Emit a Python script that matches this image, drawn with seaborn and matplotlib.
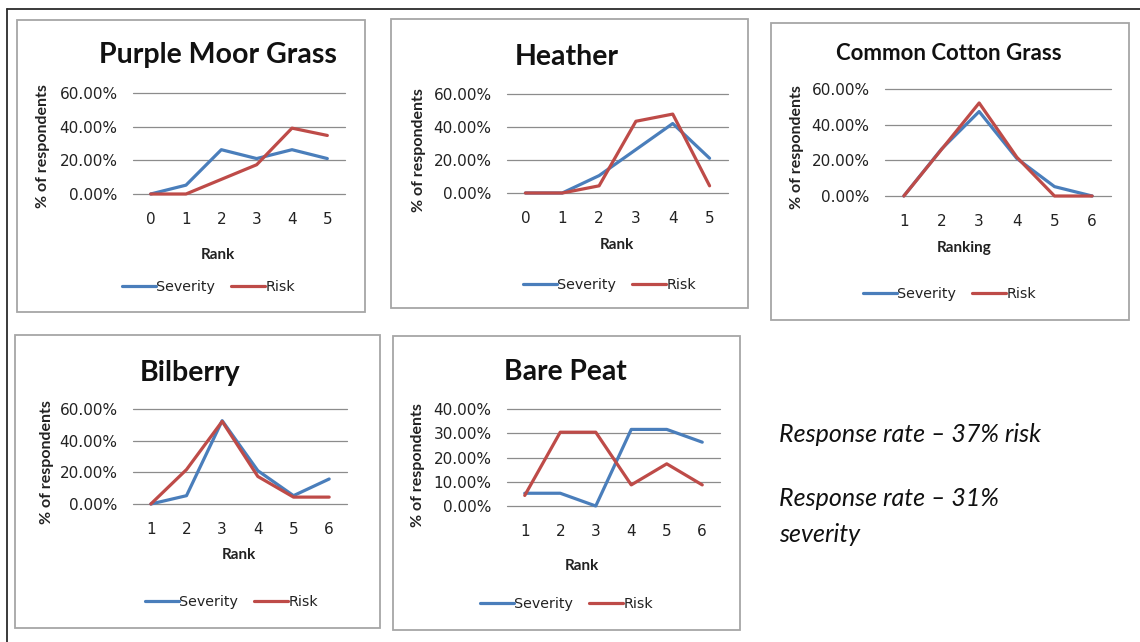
import matplotlib
matplotlib.use("Agg")
import matplotlib.pyplot as plt
import matplotlib.ticker as mticker
from matplotlib.patches import Rectangle
from matplotlib.lines import Line2D
import numpy as np
import pandas as pd
import seaborn as sns

# ---------------- data (percent of respondents) ----------------
ranks_0_5 = [0, 1, 2, 3, 4, 5]
ranks_1_6 = [1, 2, 3, 4, 5, 6]
series_names = ["Severity", "Risk"]

pmg_severity = [0.0, 5.26, 26.32, 21.05, 26.32, 21.05]
pmg_risk = [0.0, 0.0, 8.70, 17.39, 39.13, 34.78]

heather_severity = [0.0, 0.0, 10.53, 26.32, 42.11, 21.05]
heather_risk = [0.0, 0.0, 4.35, 43.48, 47.83, 4.35]

cotton_severity = [0.0, 26.32, 47.37, 21.05, 5.26, 0.0]
cotton_risk = [0.0, 26.09, 52.17, 21.74, 0.0, 0.0]

bilberry_severity = [0.0, 5.26, 52.63, 21.05, 5.26, 15.79]
bilberry_risk = [0.0, 21.74, 52.17, 17.39, 4.35, 4.35]

peat_severity = [5.26, 5.26, 0.0, 31.58, 31.58, 26.32]
peat_risk = [4.35, 30.43, 30.43, 8.70, 17.39, 8.70]

titles = ["Purple Moor Grass", "Heather", "Common Cotton Grass", "Bilberry", "Bare Peat"]
xlabels = ["Rank", "Rank", "Ranking", "Rank", "Rank"]
ylabel = "% of respondents"
note_lines = ["Response rate \u2013 37% risk", "Response rate \u2013 31%", "severity"]

# ---------------- style ----------------
sns.set_theme(style="white")
plt.rcParams["font.family"] = ["DejaVu Sans"]
COLORS = {"Severity": "#4A7EBB", "Risk": "#BE4B48"}

W, H = 1140, 642
fig = plt.figure(figsize=(W / 100, H / 100), dpi=100)
fig.patch.set_facecolor("white")


def fx(x):
    return x / W


def fy(y):
    return 1 - y / H


# outer frame (top and left edges)
fig.add_artist(Line2D([fx(7), fx(1140)], [fy(9), fy(9)], transform=fig.transFigure,
                      color="#2b2b2b", lw=1.3))
fig.add_artist(Line2D([fx(7), fx(7)], [fy(9), fy(642)], transform=fig.transFigure,
                      color="#2b2b2b", lw=1.3))

panels = [
    dict(box=(17, 20, 365, 312), ax=(133, 93, 345, 194), xs=ranks_0_5, sev=pmg_severity, risk=pmg_risk,
         ymax=60, step=20, title=(218, 55, 20.5), xl=(218, 255), yl=(43, 146), leg=(122, 287)),
    dict(box=(391, 19, 748, 308), ax=(507, 94, 728, 193), xs=ranks_0_5, sev=heather_severity, risk=heather_risk,
         ymax=60, step=20, title=(567, 57, 20.5), xl=(617, 245), yl=(419, 150), leg=(523, 285)),
    dict(box=(771, 23, 1129, 320), ax=(885, 89, 1111, 196), xs=ranks_1_6, sev=cotton_severity, risk=cotton_risk,
         ymax=60, step=20, title=(949, 53, 16), xl=(964, 248), yl=(797, 147), leg=(863, 294)),
    dict(box=(15, 335, 380, 628), ax=(133, 409, 347, 504), xs=ranks_1_6, sev=bilberry_severity, risk=bilberry_risk,
         ymax=60, step=20, title=(190, 373, 20.5), xl=(239, 555), yl=(47, 462), leg=(145, 602)),
    dict(box=(393, 336, 740, 630), ax=(507, 409, 720, 506), xs=ranks_1_6, sev=peat_severity, risk=peat_risk,
         ymax=40, step=10, title=(565, 372, 20.3), xl=(582, 566), yl=(418, 465), leg=(480, 604)),
]

for i, p in enumerate(panels):
    bx0, by0, bx1, by1 = p["box"]
    fig.add_artist(Rectangle((fx(bx0), fy(by1)), (bx1 - bx0) / W, (by1 - by0) / H,
                             transform=fig.transFigure, fill=False,
                             edgecolor="#A6A6A6", lw=1.3))
    ax0, ay0, ax1, ay1 = p["ax"]
    ax = fig.add_axes([fx(ax0), fy(ay1), (ax1 - ax0) / W, (ay1 - ay0) / H])
    ax.set_facecolor("none")

    df = pd.DataFrame({
        "Rank": list(p["xs"]) * 2,
        "Pct": list(p["sev"]) + list(p["risk"]),
        "Series": ["Severity"] * len(p["xs"]) + ["Risk"] * len(p["xs"]),
    })
    sns.lineplot(data=df, x="Rank", y="Pct", hue="Series", hue_order=series_names,
                 palette=COLORS, lw=2.3, ax=ax, sort=False, clip_on=False, zorder=3)

    xs = p["xs"]
    ax.set_xlim(xs[0] - 0.5, xs[-1] + 0.5)
    ax.set_ylim(0, p["ymax"])
    ax.set_yticks(np.arange(0, p["ymax"] + 0.1, p["step"]))
    ax.set_xticks(xs)
    ax.yaxis.set_major_formatter(mticker.PercentFormatter(xmax=100, decimals=2))
    ax.grid(axis="y", color="#8C8C8C", lw=0.9)
    ax.grid(axis="x", visible=False)
    for gl in ax.get_ygridlines():
        gl.set_clip_on(False)
    for s in ax.spines.values():
        s.set_visible(False)
    ax.tick_params(axis="both", length=0, labelsize=11, colors="#222222")
    ax.tick_params(axis="x", pad=13)
    ax.tick_params(axis="y", pad=11)
    ax.set_xlabel("")
    ax.set_ylabel("")

    tx, ty, ts = p["title"]
    fig.text(fx(tx), fy(ty), titles[i], ha="center", va="center",
             fontsize=ts, fontweight="bold", family=["Lato", "DejaVu Sans"], color="#111111")
    lx, ly = p["xl"]
    fig.text(fx(lx), fy(ly), xlabels[i], ha="center", va="center",
             fontsize=11, fontweight="bold", family=["Lato", "DejaVu Sans"], color="#222222")
    yx, yy = p["yl"]
    fig.text(fx(yx), fy(yy), ylabel, ha="center", va="center", rotation=90,
             fontsize=11.5, fontweight="bold", family=["Lato", "DejaVu Sans"], color="#222222")

    gx, gy = p["leg"]
    sns.move_legend(ax, "center left", bbox_to_anchor=(fx(gx), fy(gy)),
                    bbox_transform=fig.transFigure, ncol=2, frameon=False, title=None,
                    handlelength=2.4, handletextpad=0.0, columnspacing=1.1,
                    borderpad=0, borderaxespad=0, fontsize=10.3)
    leg = ax.get_legend()
    for h in leg.legend_handles:
        h.set_linewidth(2.3)
    for t in leg.get_texts():
        t.set_color("#222222")

# note text
for txt, yy in zip(note_lines, [435, 498, 535]):
    fig.text(fx(779), fy(yy), txt, ha="left", va="center", fontsize=18,
             style="italic", family=["Lato", "DejaVu Sans"], color="#111111")

fig.savefig("out.png", dpi=100, facecolor="white")
